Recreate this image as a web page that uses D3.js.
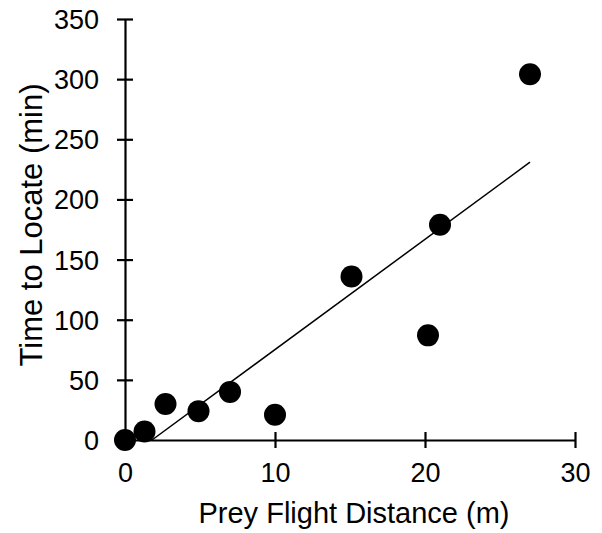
<!DOCTYPE html>
<html>
<head>
<meta charset="utf-8">
<script src="https://cdn.jsdelivr.net/npm/d3@7"></script>
<style>
  body { margin: 0; background: #fff; }
  text { font-family: "Liberation Sans", Arial, sans-serif; fill: #000; }
</style>
</head>
<body>
<div id="chart-area"></div>
<script>
// prey flight distance (m) vs time to locate (min)
const distance = [0, 1.3, 2.7, 4.9, 7.0, 10.0, 15.1, 20.2, 21.0, 27.0];
const timeToLocate = [0, 7, 30, 24, 40, 21, 136, 87, 179, 304];
const xTicks = [0, 10, 20, 30];
const yTicks = [0, 50, 100, 150, 200, 250, 300, 350];
// linear trendline, endpoints
const trendX = [1.8, 27];
const trendY = [0, 231];

const drawChart = () => {
  const chartSize = { width: 602, height: 533 };
  const margin = { left: 125, right: 27, top: 19, bottom: 93 };
  const width = chartSize.width - (margin.left + margin.right);
  const height = chartSize.height - (margin.top + margin.bottom);

  const x = d3.scaleLinear().domain([0, 30]).range([0, width]);
  const y = d3.scaleLinear().domain([0, 350]).range([height, 0]);

  const svg = d3
    .select("#chart-area")
    .append("svg")
    .attr("width", chartSize.width)
    .attr("height", chartSize.height);

  const g = svg
    .append("g")
    .attr("transform", `translate(${margin.left}, ${margin.top})`);

  const xAxis = d3.axisBottom(x).tickValues(xTicks).tickSizeOuter(0);
  const yAxis = d3.axisLeft(y).tickValues(yTicks).tickSizeOuter(0);

  const xg = g
    .append("g")
    .attr("transform", `translate(0, ${height})`)
    .call(xAxis);
  xg.selectAll(".tick line").attr("y1", -8).attr("y2", 8);
  xg.selectAll(".tick text")
    .attr("y", 42)
    .attr("dy", 0)
    .style("font-size", "27px");

  const yg = g.append("g").call(yAxis);
  yg.selectAll(".tick line").attr("x1", -8).attr("x2", 8);
  yg.selectAll(".tick text")
    .attr("x", -26)
    .attr("dy", "0.35em")
    .style("font-size", "27px");

  g.selectAll(".domain, .tick line")
    .attr("stroke", "#000")
    .attr("stroke-width", 2.2);
  g.selectAll(".tick text").attr("font-family", null);

  g.append("line")
    .attr("x1", x(trendX[0]))
    .attr("y1", y(trendY[0]))
    .attr("x2", x(trendX[1]))
    .attr("y2", y(trendY[1]))
    .attr("stroke", "#000")
    .attr("stroke-width", 1.5);

  g.selectAll("circle")
    .data(distance)
    .enter()
    .append("circle")
    .attr("cx", d => x(d))
    .attr("cy", (d, i) => y(timeToLocate[i]))
    .attr("r", 11)
    .attr("fill", "#000");

  svg.append("text")
    .attr("x", margin.left + width / 2 + 4)
    .attr("y", 523)
    .attr("text-anchor", "middle")
    .style("font-size", "29px")
    .text("Prey Flight Distance (m)");

  svg.append("text")
    .attr("transform", `translate(42, 225) rotate(-90)`)
    .attr("text-anchor", "middle")
    .style("font-size", "31px")
    .text("Time to Locate (min)");
};

window.onload = drawChart;
</script>
</body>
</html>
